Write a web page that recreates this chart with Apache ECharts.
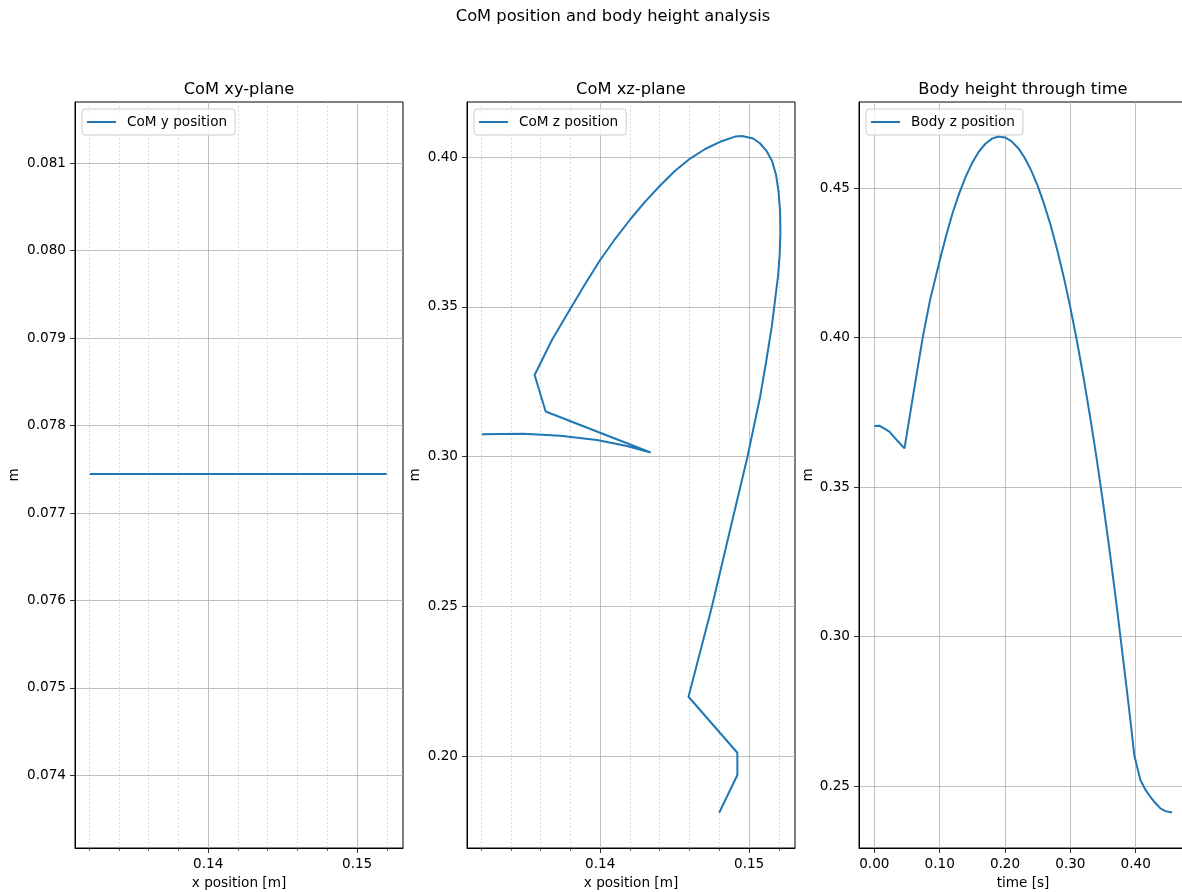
<!DOCTYPE html>
<html>
<head>
<meta charset="utf-8">
<script src="https://cdn.jsdelivr.net/npm/echarts@6/dist/echarts.min.js"></script>
<style>
  html, body { margin: 0; padding: 0; background: #ffffff; }
  #chart { width: 1182px; height: 892px; }
</style>
</head>
<body>
<div id="chart"></div>
<script>
// CoM trajectory (x, y, z) in metres, in sample order
const comX = [0.13206, 0.13485, 0.13732, 0.13978, 0.14179, 0.14339, 0.13634, 0.13560,
  0.13676, 0.13799, 0.13899, 0.14000, 0.14101, 0.14201, 0.14302, 0.14403, 0.14503, 0.14604,
  0.14705, 0.14805, 0.14906, 0.14953, 0.15027, 0.15074, 0.15119, 0.15154, 0.15181, 0.15198,
  0.15208, 0.15210, 0.15205, 0.15195, 0.15174, 0.15152, 0.15114, 0.15074, 0.14989, 0.14872,
  0.14750, 0.14593, 0.14921, 0.14921, 0.14799];
const comY = [0.077446, 0.077446, 0.077446, 0.077446, 0.077446, 0.077446, 0.077446, 0.077446,
  0.077446, 0.077446, 0.077446, 0.077446, 0.077446, 0.077446, 0.077446, 0.077446, 0.077446, 0.077446,
  0.077446, 0.077446, 0.077446, 0.077446, 0.077446, 0.077446, 0.077446, 0.077446, 0.077446, 0.077446,
  0.077446, 0.077446, 0.077446, 0.077446, 0.077446, 0.077446, 0.077446, 0.077446, 0.077446, 0.077446,
  0.077446, 0.077446, 0.077446, 0.077446, 0.077446];
const comZ = [0.30741, 0.30761, 0.30694, 0.30551, 0.30351, 0.30134, 0.31502, 0.32721,
  0.33890, 0.34925, 0.35760, 0.36561, 0.37269, 0.37913, 0.38508, 0.39048, 0.39539, 0.39947,
  0.40267, 0.40508, 0.40681, 0.40701, 0.40618, 0.40451, 0.40184, 0.39866, 0.39399, 0.38831,
  0.38164, 0.37462, 0.36728, 0.36060, 0.35225, 0.34334, 0.33155, 0.31997, 0.29993, 0.27546,
  0.24985, 0.21980, 0.20110, 0.19366, 0.18107];

// Body height over time
const timeS = [0.0000, 0.0077, 0.0230, 0.0343, 0.0461, 0.0599, 0.0742, 0.0857, 0.1000,
  0.1100, 0.1200, 0.1300, 0.1400, 0.1500, 0.1600, 0.1700, 0.1800, 0.1900, 0.2000, 0.2100,
  0.2200, 0.2300, 0.2400, 0.2500, 0.2600, 0.2700, 0.2800, 0.2900, 0.3000, 0.3100, 0.3200,
  0.3300, 0.3400, 0.3500, 0.3600, 0.3700, 0.3800, 0.3900, 0.3978, 0.4071, 0.4147, 0.4224,
  0.4301, 0.4378, 0.4455, 0.4557];
const bodyZ = [0.3704, 0.3705, 0.3685, 0.3657, 0.3629, 0.3814, 0.4002, 0.4130, 0.4257,
  0.4342, 0.4418, 0.4483, 0.4539, 0.4585, 0.4622, 0.4648, 0.4665, 0.4672, 0.4669, 0.4656,
  0.4634, 0.4601, 0.4559, 0.4507, 0.4445, 0.4374, 0.4292, 0.4201, 0.4100, 0.3989, 0.3868,
  0.3738, 0.3598, 0.3448, 0.3288, 0.3118, 0.2938, 0.2755, 0.2604, 0.2520, 0.2488, 0.2464,
  0.2443, 0.2425, 0.2416, 0.2411];

// Major tick positions per axis
const comXTicks = [0.14, 0.15];
const comYTicks = [0.074, 0.075, 0.076, 0.077, 0.078, 0.079, 0.080, 0.081];
const comZTicks = [0.20, 0.25, 0.30, 0.35, 0.40];
const timeTicks = [0.0, 0.1, 0.2, 0.3, 0.4];
const bodyZTicks = [0.25, 0.30, 0.35, 0.40, 0.45];

const FONT = 'DejaVu Sans';
const LINE_COLOR = '#1f77b4';
const TICK_SIZE = 13.6;
const TITLE_SIZE = 16.3;

// label only multiples of the major step
function tickFmt(step, digits) {
  return function (v) {
    const k = v / step;
    if (Math.abs(k - Math.round(k)) > 1e-6) return '';
    const r = Math.abs(v) < 1e-12 ? 0 : v;
    return r.toFixed(digits);
  };
}

const gridBox = (left) => ({
  left: left, top: 102, width: 328, height: 746,
  show: true, borderColor: '#000', borderWidth: 1, backgroundColor: 'transparent',
  containLabel: false, outerBoundsMode: 'none'
});

const labelStyle = { color: '#000', fontFamily: FONT, fontSize: TICK_SIZE };
const majorSplit = { show: true, showMinLine: true, showMaxLine: true,
  lineStyle: { color: '#b0b0b0', width: 0.8, type: 'solid' } };

function valueAxis(cfg) {
  const ax = {
    type: 'value',
    gridIndex: cfg.grid,
    min: cfg.min, max: cfg.max,
    splitNumber: cfg.splitNumber,
    minInterval: cfg.step, maxInterval: cfg.step,
    scale: true,
    axisLine: { show: true, onZero: false, lineStyle: { color: '#000', width: 1 } },
    axisTick: { show: true, inside: false, length: 5, customValues: cfg.ticks,
      lineStyle: { color: '#000', width: 0.8 } },
    axisLabel: Object.assign({ margin: 9, customValues: cfg.ticks,
      formatter: tickFmt(cfg.step, cfg.digits), hideOverlap: false }, labelStyle),
    splitLine: majorSplit,
    name: cfg.name, nameLocation: 'middle', nameGap: cfg.nameGap,
    nameTextStyle: { color: '#000', fontFamily: FONT, fontSize: TICK_SIZE }
  };
  if (cfg.minor) {
    ax.minorTick = { show: true, splitNumber: 5, length: 3, lineStyle: { color: '#000', width: 0.6 } };
    ax.minorSplitLine = { show: true, lineStyle: { color: '#bdbdbd', width: 0.8, type: [1.5, 2.5] } };
  }
  return ax;
}

const legendBase = {
  orient: 'horizontal', top: 109, padding: [6, 8, 6, 5],
  icon: 'rect', itemWidth: 29, itemHeight: 2, itemGap: 0,
  backgroundColor: 'rgba(255,255,255,0.8)', borderColor: '#cccccc', borderWidth: 1, borderRadius: 3,
  selectedMode: false,
  textStyle: { color: '#000', fontFamily: FONT, fontSize: TICK_SIZE, padding: [0, 0, 0, 6] }
};

const titleBase = (text, x, y) => ({
  text: text, left: x, top: y, textAlign: 'center', padding: 0,
  textStyle: { color: '#000', fontFamily: FONT, fontSize: TITLE_SIZE, fontWeight: 'normal' }
});

const option = {
  animation: false,
  backgroundColor: '#ffffff',
  title: [
    titleBase('CoM position and body height analysis', 613, 9),
    titleBase('CoM xy-plane', 239, 82),
    titleBase('CoM xz-plane', 631, 82),
    titleBase('Body height through time', 1023, 82)
  ],
  legend: [
    Object.assign({}, legendBase, { left: 82, data: ['CoM y position'] }),
    Object.assign({}, legendBase, { left: 474, data: ['CoM z position'] }),
    Object.assign({}, legendBase, { left: 866, data: ['Body z position'] })
  ],
  grid: [gridBox(75), gridBox(467), gridBox(859)],
  xAxis: [
    valueAxis({ grid: 0, min: 0.13106, max: 0.15308, splitNumber: 2, step: 0.01, digits: 2,
      ticks: comXTicks, minor: true, name: 'x position [m]', nameGap: 28 }),
    valueAxis({ grid: 1, min: 0.13106, max: 0.15308, splitNumber: 2, step: 0.01, digits: 2,
      ticks: comXTicks, minor: true, name: 'x position [m]', nameGap: 28 }),
    valueAxis({ grid: 2, min: -0.0235, max: 0.4785, splitNumber: 5, step: 0.1, digits: 2,
      ticks: timeTicks, minor: false, name: 'time [s]', nameGap: 28 })
  ],
  yAxis: [
    valueAxis({ grid: 0, min: 0.07317, max: 0.0817, splitNumber: 8, step: 0.001, digits: 3,
      ticks: comYTicks, minor: false, name: 'm', nameGap: 54 }),
    valueAxis({ grid: 1, min: 0.1693, max: 0.41836, splitNumber: 5, step: 0.05, digits: 2,
      ticks: comZTicks, minor: false, name: 'm', nameGap: 45 }),
    valueAxis({ grid: 2, min: 0.22926, max: 0.47876, splitNumber: 5, step: 0.05, digits: 2,
      ticks: bodyZTicks, minor: false, name: 'm', nameGap: 43 })
  ],
  series: [
    {
      name: 'CoM y position', type: 'line', xAxisIndex: 0, yAxisIndex: 0,
      data: comX.map((x, i) => [x, comY[i]]),
      showSymbol: false, symbol: 'none', smooth: false,
      lineStyle: { color: LINE_COLOR, width: 2 }, itemStyle: { color: LINE_COLOR }
    },
    {
      name: 'CoM z position', type: 'line', xAxisIndex: 1, yAxisIndex: 1,
      data: comX.map((x, i) => [x, comZ[i]]),
      showSymbol: false, symbol: 'none', smooth: false,
      lineStyle: { color: LINE_COLOR, width: 2 }, itemStyle: { color: LINE_COLOR }
    },
    {
      name: 'Body z position', type: 'line', xAxisIndex: 2, yAxisIndex: 2,
      data: timeS.map((t, i) => [t, bodyZ[i]]),
      showSymbol: false, symbol: 'none', smooth: false,
      lineStyle: { color: LINE_COLOR, width: 2 }, itemStyle: { color: LINE_COLOR }
    }
  ]
};

const chart = echarts.init(document.getElementById('chart'), null, { renderer: 'canvas', width: 1182, height: 892 });
chart.setOption(option);
</script>
</body>
</html>
